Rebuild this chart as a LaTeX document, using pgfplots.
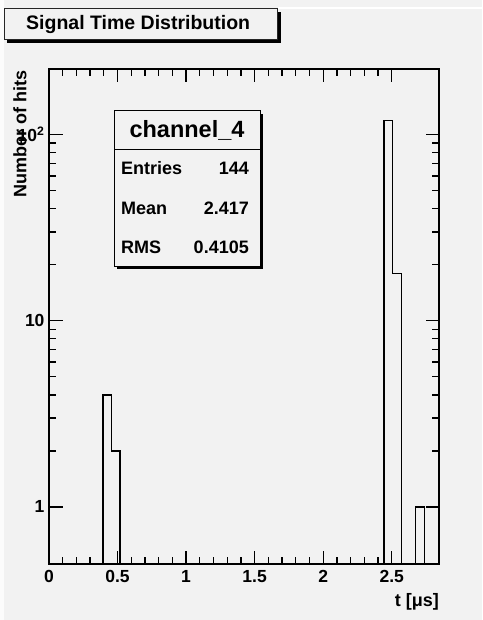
\documentclass[border=0pt]{standalone}
\usepackage{fontspec}
\setmainfont{Liberation Sans}
\usepackage{pgfplots}
\pgfplotsset{compat=1.18}
\definecolor{bg}{HTML}{F2F2F2}
\begin{document}
\begin{tikzpicture}
\fill[bg] (0pt,0pt) rectangle (482pt,620pt);
\fill[black!1] (0pt,0pt) rectangle (3.5pt,620pt);
\fill[white] (278pt,610.5pt) rectangle (482pt,613pt);
\begin{axis}[
  at={(49pt,56pt)}, anchor=south west,
  scale only axis, width=390pt, height=495pt,
  xmin=0, xmax=2.845, ymode=log, ymin=0.494, ymax=225,
  axis line style={line width=1.3pt},
  xtick={0,0.5,1,1.5,2,2.5}, xticklabels={0,0.5,1,1.5,2,2.5},
  minor x tick num=4,
  ytick={1,10,100}, yticklabels={1,10,10\textsuperscript{2}},
  tick style={black, line width=1.3pt},
  major tick length=13.5pt, minor tick length=7pt,
  /pgf/number format/assume math mode=true,
  tick label style={font=\fontsize{17.5}{19}\selectfont\bfseries},
  xticklabel style={yshift=-3pt},
  yticklabel style={xshift=-1pt},
  clip=true,
]
\addplot[const plot, line width=1.3pt, black] coordinates {(0.393,0.3) (0.393,4) (0.456,2) (0.517,0.3)};
\addplot[const plot, line width=1.3pt, black] coordinates {(2.443,0.3) (2.443,119) (2.507,18) (2.570,0.3)};
\addplot[const plot, line width=1.3pt, black] coordinates {(2.675,0.3) (2.675,1) (2.738,0.3)};
\end{axis}
% axis labels
\node[rotate=90, anchor=east, font=\fontsize{18}{20}\selectfont\bfseries, inner sep=0pt] at (20pt,550pt) {Number of hits};
\node[anchor=east, font=\fontsize{18}{20}\selectfont\bfseries, inner sep=0pt] at (439pt,18pt) {t [μs]};
% title box
\fill[black] (7pt,577pt) rectangle (280.5pt,608pt);
\filldraw[fill=bg, draw=black!85, line width=1pt] (4pt,580pt) rectangle (277pt,611pt);
\node[anchor=west, font=\fontsize{19.5}{21}\selectfont\bfseries, inner sep=0pt] at (26pt,595pt) {Signal Time Distribution};
% stats box
\fill[black] (117pt,350.5pt) rectangle (262.5pt,506pt);
\filldraw[fill=bg, draw=black, line width=1pt] (114pt,353pt) rectangle (260pt,509pt);
\draw[line width=1pt] (114pt,470.7pt) -- (260pt,470.7pt);
\node[font=\fontsize{23.5}{25}\selectfont\bfseries, inner sep=0pt] at (187pt,490pt) {channel\_4};
\begin{scope}[every node/.style={font=\fontsize{18}{20}\selectfont\bfseries, inner sep=0pt}]
\node[anchor=west] at (121pt,452pt) {Entries};
\node[anchor=east] at (249pt,452pt) {144};
\node[anchor=west] at (121pt,412pt) {Mean};
\node[anchor=east] at (249pt,412pt) {2.417};
\node[anchor=west] at (121pt,373pt) {RMS};
\node[anchor=east] at (249pt,373pt) {0.4105};
\end{scope}
\end{tikzpicture}
\end{document}
